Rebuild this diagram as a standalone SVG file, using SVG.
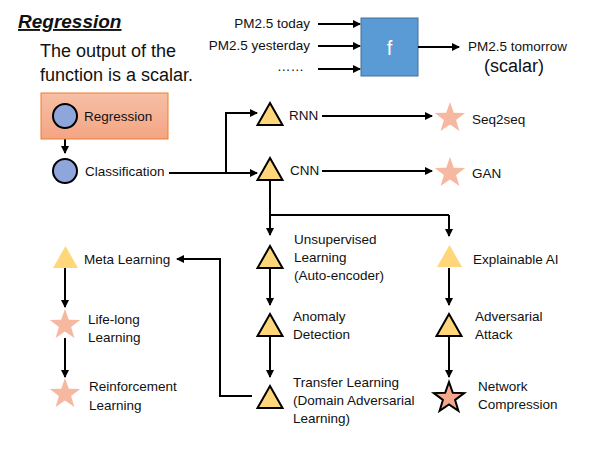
<svg xmlns="http://www.w3.org/2000/svg" width="600" height="450" viewBox="0 0 600 450">
<defs>
<marker id="ah" viewBox="0 0 8 8" refX="7" refY="4" markerWidth="4" markerHeight="4" orient="auto" markerUnits="strokeWidth">
<path d="M0,0 L8,4 L0,8 z" fill="#000"/>
</marker>
<linearGradient id="rg" x1="0" y1="0" x2="0" y2="1">
<stop offset="0" stop-color="#f7bfa5"/>
<stop offset="1" stop-color="#f3a583"/>
</linearGradient>
<path id="star" d="M0,-16 L3.8,-5.2 L15.2,-4.9 L6.1,2 L9.4,12.9 L0,6.4 L-9.4,12.9 L-6.1,2 L-15.2,-4.9 L-3.8,-5.2 Z"/>
<path id="tri" d="M0,-11 L12.5,11 L-12.5,11 Z"/>
</defs>
<style>
text{font-family:"Liberation Sans",Arial,sans-serif;fill:#111;font-size:13.5px}
.big{font-size:18px}
.title{font-size:19px;font-weight:bold;font-style:italic;text-decoration:underline}
.con{fill:none;stroke:#000;stroke-width:2}
.arr{marker-end:url(#ah)}
.tri{fill:#ffd77a;stroke:#000;stroke-width:2;stroke-linejoin:miter}
.trin{fill:#ffd77a;stroke:none}
.star{fill:#f6b8a0;stroke:none}
.stars{fill:#f4a98e;stroke:#000;stroke-width:2}
.circ{fill:#8fa6dc;stroke:#000;stroke-width:2}
</style>

<g id="title">
<text x="18" y="28" class="title">Regression</text>
<text x="40" y="57" class="big">The output of the</text>
<text x="40" y="81" class="big">function is a scalar.</text>
</g>

<g id="function">
<text x="310" y="28" text-anchor="end">PM2.5 today</text>
<text x="310" y="50" text-anchor="end">PM2.5 yesterday</text>
<text x="304" y="71" text-anchor="end">……</text>
<rect x="361" y="18" width="57" height="58" fill="#5b9bd5" stroke="#41719c" stroke-width="1"/>
<text x="389.5" y="55" text-anchor="middle" style="fill:#fff;font-size:20px">f</text>
<text x="468" y="51">PM2.5 tomorrow</text>
<text x="484" y="72" class="big">(scalar)</text>
</g>

<g id="connectors">
<path class="con arr" d="M318,24 H360"/>
<path class="con arr" d="M318,46 H360"/>
<path class="con arr" d="M318,69 H360"/>
<path class="con arr" d="M418,47 H459"/>
<path class="con arr" d="M65,128 V153"/>
<path class="con arr" d="M169,173 H257"/>
<path class="con arr" d="M226,173 V113 H257"/>
<path class="con arr" d="M322,116 H432"/>
<path class="con arr" d="M322,171 H432"/>
<path class="con" d="M270,181 V215 H449"/>
<path class="con arr" d="M270,215 V235"/>
<path class="con arr" d="M449,215 V236"/>
<path class="con arr" d="M270,268 V305"/>
<path class="con arr" d="M270,336 V377"/>
<path class="con arr" d="M449,268 V305"/>
<path class="con arr" d="M449,336 V377"/>
<path class="con arr" d="M252,396 H220 V259 H177"/>
<path class="con arr" d="M65,268 V307"/>
<path class="con arr" d="M65,338 V377"/>
</g>

<g id="regression">
<rect x="41" y="93" width="127" height="46" fill="url(#rg)" stroke="#ed7d31" stroke-width="1"/>
<circle class="circ" cx="65" cy="116" r="12"/>
<text x="84" y="121">Regression</text>
</g>
<g id="classification">
<circle class="circ" cx="65" cy="171" r="12"/>
<text x="85" y="176">Classification</text>
</g>
<g id="rnn">
<use href="#tri" class="tri" x="270" y="114"/>
<text x="289" y="120">RNN</text>
</g>
<g id="cnn">
<use href="#tri" class="tri" x="270" y="169"/>
<text x="290" y="175">CNN</text>
</g>
<g id="seq2seq">
<use href="#star" class="star" x="450" y="118"/>
<text x="472" y="124">Seq2seq</text>
</g>
<g id="gan">
<use href="#star" class="star" x="450" y="173"/>
<text x="472" y="178">GAN</text>
</g>
<g id="unsupervised">
<use href="#tri" class="tri" x="270" y="257"/>
<text x="294" y="244">Unsupervised</text>
<text x="294" y="262">Learning</text>
<text x="294" y="280">(Auto-encoder)</text>
</g>
<g id="anomaly">
<use href="#tri" class="tri" x="270" y="325"/>
<text x="293" y="321">Anomaly</text>
<text x="293" y="339">Detection</text>
</g>
<g id="transfer">
<use href="#tri" class="tri" x="270" y="397"/>
<text x="293" y="387">Transfer Learning</text>
<text x="293" y="405">(Domain Adversarial</text>
<text x="293" y="423">Learning)</text>
</g>
<g id="explainable">
<use href="#tri" class="trin" x="449.5" y="256"/>
<text x="473" y="264">Explainable AI</text>
</g>
<g id="adversarial">
<use href="#tri" class="tri" x="449" y="325"/>
<text x="475" y="321">Adversarial</text>
<text x="475" y="339">Attack</text>
</g>
<g id="compression">
<use href="#star" class="stars" x="449" y="398"/>
<text x="478" y="391">Network</text>
<text x="478" y="409">Compression</text>
</g>
<g id="meta">
<use href="#tri" class="trin" x="65.5" y="257"/>
<text x="84" y="264">Meta Learning</text>
</g>
<g id="lifelong">
<use href="#star" class="star" x="65" y="325"/>
<text x="88" y="324">Life-long</text>
<text x="88" y="342">Learning</text>
</g>
<g id="reinforcement">
<use href="#star" class="star" x="65" y="394"/>
<text x="89" y="391">Reinforcement</text>
<text x="89" y="410">Learning</text>
</g>
</svg>
